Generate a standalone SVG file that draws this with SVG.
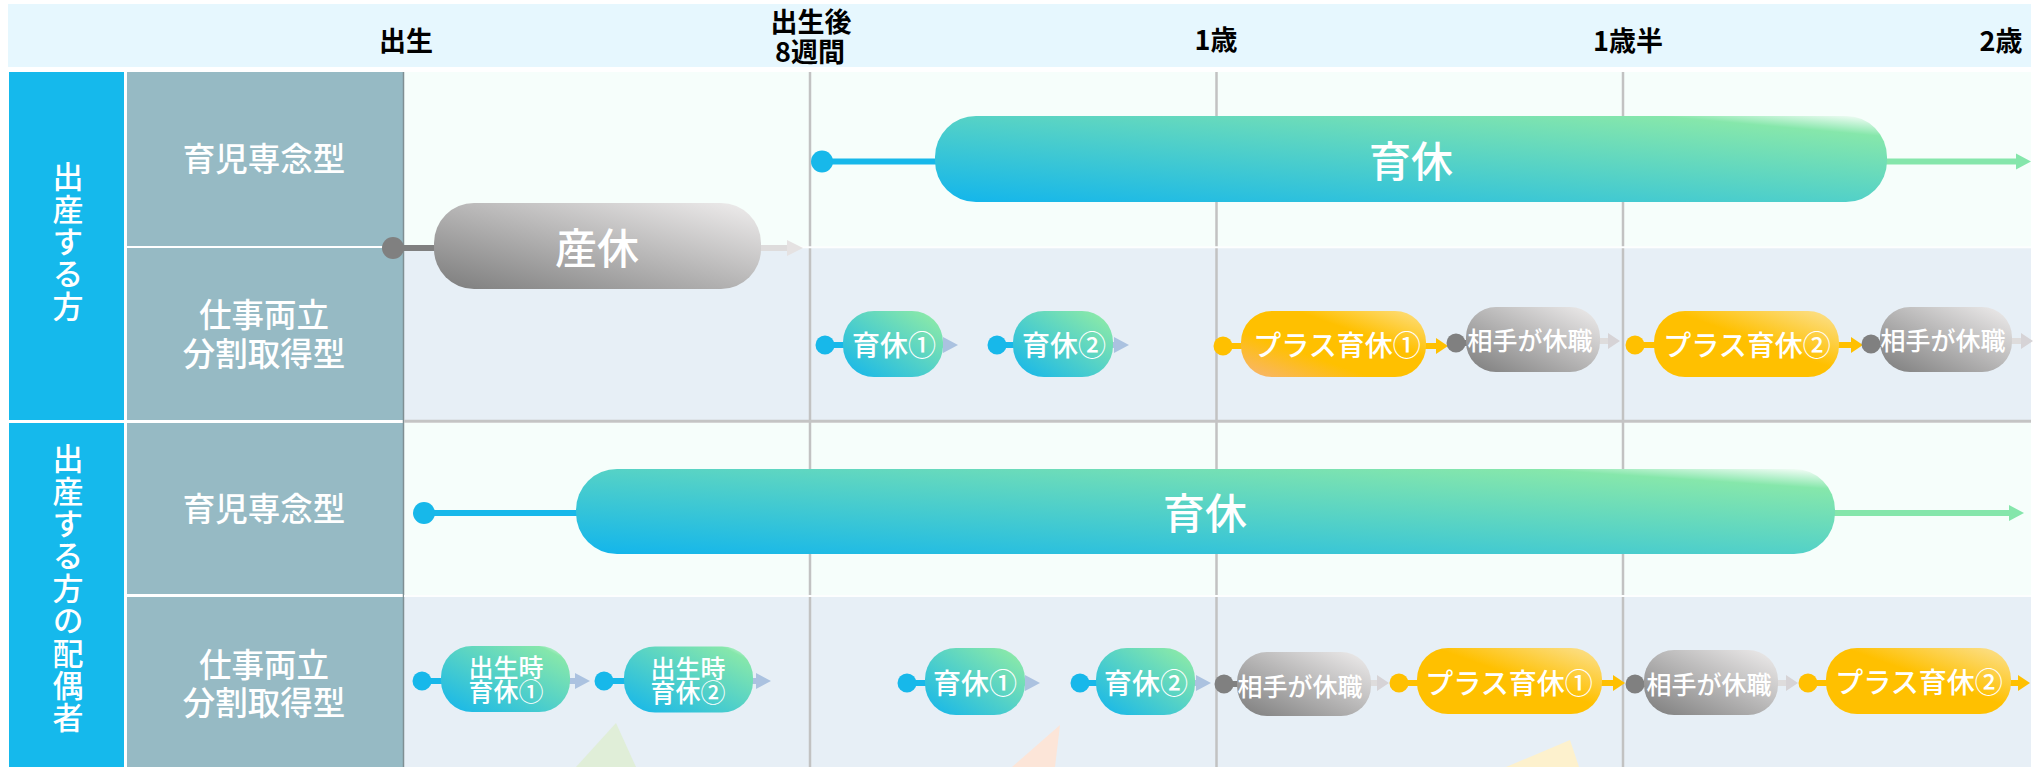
<svg xmlns="http://www.w3.org/2000/svg" width="2042" height="767" viewBox="0 0 2042 767">
<style>
text{font-family:"Noto Sans CJK JP","Noto Sans",sans-serif;text-anchor:middle;dominant-baseline:central;fill:#fff}
.h{fill:#000;font-size:27px;font-weight:700}
.v{writing-mode:vertical-rl;font-size:31px;font-weight:500;letter-spacing:1.4px;text-anchor:start;dominant-baseline:auto}
.r{font-size:32.500px;font-weight:500}
.xl{font-size:42px;font-weight:500}
.m{font-size:28px;font-weight:500}
.s{font-size:25px;font-weight:500}
.grid{stroke:#c2c2c2;stroke-width:2.5}
.c{stroke-width:6;fill:none}
.bl{stroke:#17b8ea}.gn{stroke:#85e6ab}.gy{stroke:#808080}.lg{stroke:#dedcdc}.or{stroke:#ffc000}.li{stroke:#abc2e0}
.teal{fill:url(#tealG)}.gray{fill:url(#grayG)}.o1{fill:url(#or1G)}.o2{fill:url(#or2G)}
</style>
<defs>
<linearGradient id="tealG" x1="0" y1="1" x2="1" y2="0"><stop offset="0" stop-color="#12b5ec"/><stop offset=".88" stop-color="#86e7ab"/><stop offset="1" stop-color="#fff"/></linearGradient>
<linearGradient id="grayG" x1="0" y1="1" x2="1" y2="0"><stop offset="0" stop-color="#7c7c7c"/><stop offset="1" stop-color="#f0eeee"/></linearGradient>
<linearGradient id="or1G" x1="0" y1="1" x2="1" y2="0"><stop offset="0" stop-color="#f7b478"/><stop offset=".35" stop-color="#ffc000"/><stop offset=".65" stop-color="#ffc000"/><stop offset="1" stop-color="#fde088"/></linearGradient>
<linearGradient id="or2G" x1="0" y1="1" x2="1" y2="0"><stop offset="0" stop-color="#ffc000"/><stop offset=".55" stop-color="#ffc000"/><stop offset="1" stop-color="#fbe296"/></linearGradient>
<marker id="dBlL" markerUnits="userSpaceOnUse" markerWidth="24" markerHeight="24" refX="12" refY="12"><circle cx="12" cy="12" r="11" fill="#17b8ea"/></marker>
<marker id="dGyL" markerUnits="userSpaceOnUse" markerWidth="24" markerHeight="24" refX="12" refY="12"><circle cx="12" cy="12" r="11" fill="#808080"/></marker>
<marker id="dBl" markerUnits="userSpaceOnUse" markerWidth="20" markerHeight="20" refX="10" refY="10"><circle cx="10" cy="10" r="9.500" fill="#17b8ea"/></marker>
<marker id="dOr" markerUnits="userSpaceOnUse" markerWidth="20" markerHeight="20" refX="10" refY="10"><circle cx="10" cy="10" r="9.500" fill="#ffc000"/></marker>
<marker id="dGy" markerUnits="userSpaceOnUse" markerWidth="20" markerHeight="20" refX="10" refY="10"><circle cx="10" cy="10" r="9.500" fill="#808080"/></marker>
<marker id="aGn" markerUnits="userSpaceOnUse" markerWidth="16" markerHeight="18" refX="0" refY="9"><path d="M0 1L15 9L0 17z" fill="#85e6ab"/></marker>
<marker id="aLg" markerUnits="userSpaceOnUse" markerWidth="16" markerHeight="18" refX="0" refY="9"><path d="M0 1L16 9L0 17z" fill="#e5e2e2"/></marker>
<marker id="aOr" markerUnits="userSpaceOnUse" markerWidth="13" markerHeight="18" refX="0" refY="9"><path d="M0 1L12 9L0 17z" fill="#ffc000"/></marker>
<marker id="aGy" markerUnits="userSpaceOnUse" markerWidth="13" markerHeight="18" refX="0" refY="9"><path d="M0 1L12 9L0 17z" fill="#d6d3d6"/></marker>
<marker id="aLi" markerUnits="userSpaceOnUse" markerWidth="16" markerHeight="18" refX="0" refY="9"><path d="M0 1L15 9L0 17z" fill="#abc2e0"/></marker>
</defs>
<rect width="2042" height="767" fill="#fff"/>
<g id="background">
<rect x="8" y="4" width="2023" height="63" fill="#e6f7fe"/>
<rect x="9" y="72" width="115" height="348" fill="#15b9ec"/>
<rect x="9" y="423" width="115" height="344" fill="#15b9ec"/>
<rect x="127" y="72" width="276" height="174" fill="#96bac4"/>
<rect x="127" y="248" width="276" height="172" fill="#96bac4"/>
<rect x="127" y="423" width="276" height="171" fill="#96bac4"/>
<rect x="127" y="597" width="276" height="170" fill="#96bac4"/>
<rect x="404" y="72" width="1627" height="175" fill="#f6fefb"/>
<rect x="404" y="248" width="1627" height="172" fill="#e7eff6"/>
<rect x="404" y="423" width="1627" height="172" fill="#f6fefb"/>
<rect x="404" y="597" width="1627" height="170" fill="#e7eff6"/>
<path d="M616 723L576 767H636z" fill="#e0eed8"/>
<path d="M1060 725L1012 767H1055z" fill="#fce5d8"/>
<path d="M1570 740L1506 767H1579z" fill="#fdf1cd"/>
<line x1="403.500" y1="72" x2="403.500" y2="767" stroke="#7f8f93" stroke-width="1.500"/>
<line class="grid" x1="810" y1="72" x2="810" y2="767"/>
<line class="grid" x1="1216.500" y1="72" x2="1216.500" y2="767"/>
<line class="grid" x1="1623" y1="72" x2="1623" y2="767"/>
<line x1="404" y1="247.200" x2="2031" y2="247.200" stroke="#fdfefe" stroke-width="2"/>
<line x1="404" y1="596" x2="2031" y2="596" stroke="#fdfefe" stroke-width="2"/>
<line x1="404" y1="421.300" x2="2031" y2="421.300" stroke="#c4c4c4" stroke-width="3"/>
</g>
<g id="header">
<text class="h" x="406" y="39">出生</text>
<text class="h"><tspan x="811" y="20">出生後</tspan><tspan x="810" y="50">8週間</tspan></text>
<text class="h" x="1216" y="38">1歳</text>
<text class="h" x="1628" y="39">1歳半</text>
<text class="h" x="2001" y="39">2歳</text>
</g>
<g id="labels">
<text class="v" x="68" y="161">出産する方</text>
<text class="v" x="68" y="443">出産する方の配偶者</text>
<text class="r" x="264" y="156">育児専念型</text>
<text class="r"><tspan x="264" y="312">仕事両立</tspan><tspan x="264" y="351">分割取得型</tspan></text>
<text class="r" x="264" y="506">育児専念型</text>
<text class="r"><tspan x="264" y="662">仕事両立</tspan><tspan x="264" y="700">分割取得型</tspan></text>
</g>
<g id="connectors">
<line class="c gy" x1="393" y1="248" x2="440" y2="248" marker-start="url(#dGyL)"/>
<line class="c lg" x1="755" y1="248" x2="787" y2="248" marker-end="url(#aLg)"/>
<line class="c bl" x1="822" y1="161.500" x2="940" y2="161.500" marker-start="url(#dBlL)"/>
<line class="c gn" x1="1880" y1="161.500" x2="2016" y2="161.500" marker-end="url(#aGn)"/>
<line class="c bl" x1="424" y1="513" x2="582" y2="513" marker-start="url(#dBlL)"/>
<line class="c gn" x1="1830" y1="513" x2="2009" y2="513" marker-end="url(#aGn)"/>
<line class="c bl" x1="825" y1="345" x2="848" y2="345" marker-start="url(#dBl)"/>
<line class="c li" x1="938" y1="345" x2="943" y2="345" marker-end="url(#aLi)"/>
<line class="c bl" x1="997" y1="345" x2="1018" y2="345" marker-start="url(#dBl)"/>
<line class="c li" x1="1108" y1="345" x2="1114" y2="345" marker-end="url(#aLi)"/>
<line class="c or" x1="1223" y1="346" x2="1246" y2="346" marker-start="url(#dOr)"/>
<line class="c or" x1="1420" y1="346" x2="1436" y2="346" marker-end="url(#aOr)"/>
<line class="c gy" x1="1456" y1="343" x2="1470" y2="343" marker-start="url(#dGy)"/>
<line class="c lg" x1="1595" y1="341" x2="1608" y2="341" marker-end="url(#aGy)"/>
<line class="c or" x1="1635" y1="345" x2="1660" y2="345" marker-start="url(#dOr)"/>
<line class="c or" x1="1833" y1="345" x2="1851" y2="345" marker-end="url(#aOr)"/>
<line class="c gy" x1="1871" y1="344" x2="1885" y2="344" marker-start="url(#dGy)"/>
<line class="c lg" x1="2006" y1="341" x2="2021" y2="341" marker-end="url(#aGy)"/>
<line class="c bl" x1="422" y1="681" x2="446" y2="681" marker-start="url(#dBl)"/>
<line class="c li" x1="565" y1="681" x2="575" y2="681" marker-end="url(#aLi)"/>
<line class="c bl" x1="604" y1="681" x2="629" y2="681" marker-start="url(#dBl)"/>
<line class="c li" x1="748" y1="681" x2="756" y2="681" marker-end="url(#aLi)"/>
<line class="c bl" x1="907" y1="683" x2="930" y2="683" marker-start="url(#dBl)"/>
<line class="c li" x1="1020" y1="683" x2="1025" y2="683" marker-end="url(#aLi)"/>
<line class="c bl" x1="1080" y1="683" x2="1101" y2="683" marker-start="url(#dBl)"/>
<line class="c li" x1="1190" y1="683" x2="1196" y2="683" marker-end="url(#aLi)"/>
<line class="c gy" x1="1224" y1="684" x2="1242" y2="684" marker-start="url(#dGy)"/>
<line class="c lg" x1="1366" y1="683" x2="1377" y2="683" marker-end="url(#aGy)"/>
<line class="c or" x1="1399" y1="683" x2="1422" y2="683" marker-start="url(#dOr)"/>
<line class="c or" x1="1597" y1="683" x2="1613" y2="683" marker-end="url(#aOr)"/>
<line class="c gy" x1="1635" y1="684" x2="1649" y2="684" marker-start="url(#dGy)"/>
<line class="c lg" x1="1772" y1="683" x2="1786" y2="683" marker-end="url(#aGy)"/>
<line class="c or" x1="1808" y1="683" x2="1831" y2="683" marker-start="url(#dOr)"/>
<line class="c or" x1="2006" y1="683" x2="2018" y2="683" marker-end="url(#aOr)"/>
</g>
<g id="node-sankyu"><rect class="gray" x="434" y="203" width="327" height="86" rx="40"/><text class="xl" x="597" y="245">産休</text></g>
<g id="node-ikukyu-a"><rect class="teal" x="935" y="116" width="952" height="86" rx="41"/><text class="xl" x="1411" y="158">育休</text></g>
<g id="node-ikukyu-b"><rect class="teal" x="576" y="469" width="1259" height="85" rx="41"/><text class="xl" x="1205" y="510">育休</text></g>
<g id="node-a1"><rect class="teal" x="843" y="311" width="100" height="66" rx="31"/><text class="m" x="894" y="344">育休①</text></g>
<g id="node-a2"><rect class="teal" x="1013" y="311" width="100" height="66" rx="31"/><text class="m" x="1064" y="344">育休②</text></g>
<g id="node-a3"><rect class="o1" x="1241" y="311" width="185" height="66" rx="31"/><text class="m" x="1337" y="344">プラス育休①</text></g>
<g id="node-a4"><rect class="gray" x="1466" y="307" width="134" height="65" rx="30"/><text class="s" x="1530" y="339">相手が休職</text></g>
<g id="node-a5"><rect class="o2" x="1654" y="311" width="185" height="66" rx="31"/><text class="m" x="1747" y="344">プラス育休②</text></g>
<g id="node-a6"><rect class="gray" x="1880" y="307" width="132" height="65" rx="30"/><text class="s" x="1943" y="339">相手が休職</text></g>
<g id="node-b1"><rect class="teal" x="441" y="646" width="129" height="66" rx="31"/><text class="s"><tspan x="506" y="666">出生時</tspan><tspan x="506" y="690">育休①</tspan></text></g>
<g id="node-b2"><rect class="teal" x="624" y="646.500" width="129" height="66" rx="31"/><text class="s"><tspan x="688" y="667">出生時</tspan><tspan x="688" y="691">育休②</tspan></text></g>
<g id="node-b3"><rect class="teal" x="925" y="648" width="100" height="67" rx="31"/><text class="m" x="975" y="682">育休①</text></g>
<g id="node-b4"><rect class="teal" x="1096" y="648" width="99" height="67" rx="31"/><text class="m" x="1146" y="682">育休②</text></g>
<g id="node-b5"><rect class="gray" x="1237" y="652" width="134" height="64" rx="30"/><text class="s" x="1300" y="685">相手が休職</text></g>
<g id="node-b6"><rect class="o2" x="1417" y="648" width="185" height="66" rx="31"/><text class="m" x="1509" y="682">プラス育休①</text></g>
<g id="node-b7"><rect class="gray" x="1644" y="650" width="134" height="65" rx="30"/><text class="s" x="1709" y="683">相手が休職</text></g>
<g id="node-b8"><rect class="o2" x="1826" y="648" width="185" height="66" rx="31"/><text class="m" x="1919" y="681">プラス育休②</text></g>
</svg>
